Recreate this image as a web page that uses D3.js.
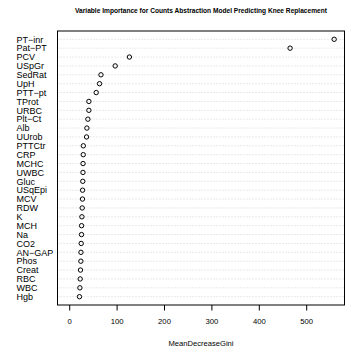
<!DOCTYPE html>
<html>
<head>
<meta charset="utf-8">
<script src="https://cdn.jsdelivr.net/npm/d3@7"></script>
<style>
  body { margin: 0; background: #fff; }
  svg { display: block; font-family: "Liberation Sans", Arial, sans-serif; }
</style>
</head>
<body>
<div id="chart"></div>
<script>
// variables, top to bottom
const variables = ['PT−inr', 'Pat−PT', 'PCV', 'USpGr', 'SedRat', 'UpH', 'PTT−pt', 'TProt',
  'URBC', 'Plt−Ct', 'Alb', 'UUrob', 'PTTCtr', 'CRP', 'MCHC', 'UWBC', 'Gluc', 'USqEpi',
  'MCV', 'RDW', 'K', 'MCH', 'Na', 'CO2', 'AN−GAP', 'Phos', 'Creat', 'RBC', 'WBC', 'Hgb'];

// MeanDecreaseGini
const gini = [559, 466, 127, 97, 67, 64, 57, 41.5, 41.5, 39.4, 37.3, 36.6, 29.8, 29.6, 29.2,
  29, 28.6, 28.2, 28, 27.4, 26.8, 26.1, 26, 25.3, 24.8, 24.6, 23.8, 23.2, 22.5, 21.7];

const xTicks = [0, 100, 200, 300, 400, 500];

const W = 355, H = 356;
const box = { left: 57.5, right: 344.5, top: 31, bottom: 305 };

const svg = d3.select('#chart').append('svg')
  .attr('width', W)
  .attr('height', H);

// scales
const x = d3.scaleLinear()
  .domain([-24.7, 580.8])
  .range([box.left, box.right]);

const y = d3.scalePoint()
  .domain(variables)
  .range([39.3, 296.7]);

// dotted guide lines
svg.append('g')
  .selectAll('line')
  .data(variables)
  .join('line')
  .attr('x1', box.left)
  .attr('x2', box.right)
  .attr('y1', d => y(d))
  .attr('y2', d => y(d))
  .attr('stroke', '#c8c8c8')
  .attr('stroke-width', 0.8)
  .attr('stroke-dasharray', '1,2');

// points
svg.append('g')
  .selectAll('circle')
  .data(gini)
  .join('circle')
  .attr('cx', d => x(d))
  .attr('cy', (d, i) => y(variables[i]))
  .attr('r', 2.2)
  .attr('fill', 'none')
  .attr('stroke', '#000')
  .attr('stroke-width', 1);

// box
svg.append('rect')
  .attr('x', box.left)
  .attr('y', box.top)
  .attr('width', box.right - box.left)
  .attr('height', box.bottom - box.top)
  .attr('fill', 'none')
  .attr('stroke', '#000')
  .attr('stroke-width', 1);

// labels
svg.append('g')
  .selectAll('text')
  .data(variables)
  .join('text')
  .attr('x', 16.5)
  .attr('y', d => y(d))
  .attr('dy', '0.36em')
  .attr('font-size', '9px')
  .attr('fill', '#000')
  .text(d => d);

// x axis
svg.append('g')
  .attr('transform', `translate(0, ${box.bottom})`)
  .call(d3.axisBottom(x).tickValues(xTicks).tickSize(5.5).tickPadding(8).tickFormat(d3.format('d')))
  .call(g => g.select('.domain').remove())
  .call(g => g.selectAll('text').attr('font-size', '7.7px').attr('font-family', '"Liberation Sans", Arial, sans-serif').attr('fill', '#000'))
  .call(g => g.selectAll('line').attr('stroke', '#000'));

svg.append('text')
  .attr('x', (box.left + box.right) / 2)
  .attr('y', 343)
  .attr('dy', '0.35em')
  .attr('text-anchor', 'middle')
  .attr('font-size', '7.6px')
  .text('MeanDecreaseGini');

// title
svg.append('text')
  .attr('x', (box.left + box.right) / 2)
  .attr('y', 11)
  .attr('dy', '0.35em')
  .attr('text-anchor', 'middle')
  .attr('font-size', '6.6px')
  .attr('font-weight', 'bold')
  .text('Variable Importance for Counts Abstraction Model Predicting Knee Replacement');
</script>
</body>
</html>
